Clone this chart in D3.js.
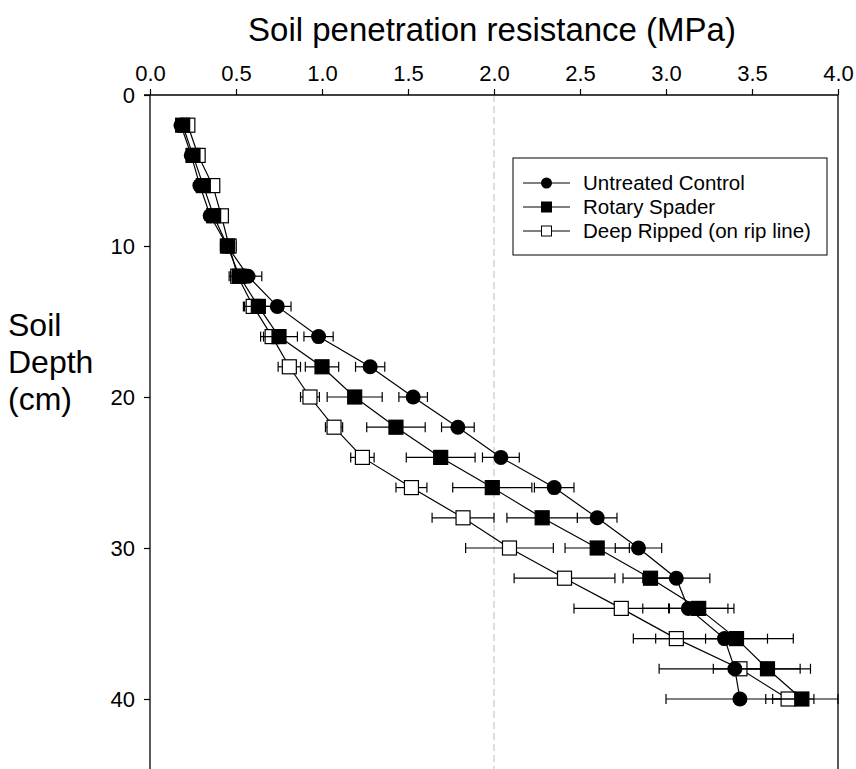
<!DOCTYPE html>
<html>
<head>
<meta charset="utf-8">
<script src="https://cdn.jsdelivr.net/npm/d3@7"></script>
<style>
  body { margin: 0; background: #fff; }
  text { font-family: "Liberation Sans", Arial, sans-serif; fill: #000; }
</style>
</head>
<body>
<div id="chart"></div>
<script>
// depth of each reading (cm)
var depths = [2, 4, 6, 8, 10, 12, 14, 16, 18, 20, 22, 24, 26, 28, 30, 32, 34, 36, 38, 40];

// soil penetration resistance (MPa) and error (+/-)
var controlVals = [0.18, 0.24, 0.29, 0.35, 0.45, 0.57, 0.74, 0.98, 1.28, 1.53, 1.79, 2.04, 2.35, 2.60, 2.84, 3.06, 3.13, 3.34, 3.40, 3.43];
var controlErr  = [0.02, 0.02, 0.02, 0.03, 0.04, 0.08, 0.08, 0.085, 0.085, 0.083, 0.095, 0.107, 0.115, 0.115, 0.135, 0.195, 0.265, 0.40, 0.44, 0.43];
var spaderVals  = [0.19, 0.25, 0.31, 0.37, 0.45, 0.52, 0.63, 0.75, 1.00, 1.19, 1.43, 1.69, 1.99, 2.28, 2.60, 2.91, 3.19, 3.41, 3.59, 3.79];
var spaderErr   = [0.02, 0.02, 0.02, 0.03, 0.04, 0.05, 0.087, 0.107, 0.097, 0.16, 0.17, 0.20, 0.23, 0.205, 0.187, 0.16, 0.17, 0.18, 0.19, 0.21];
var rippedVals  = [0.22, 0.28, 0.365, 0.415, 0.46, 0.51, 0.60, 0.71, 0.81, 0.93, 1.07, 1.235, 1.52, 1.82, 2.09, 2.41, 2.74, 3.06, 3.43, 3.71];
var rippedErr   = [0.02, 0.02, 0.02, 0.03, 0.04, 0.05, 0.05, 0.05, 0.065, 0.055, 0.05, 0.068, 0.09, 0.18, 0.255, 0.293, 0.275, 0.25, 0.155, 0.09];

var seriesNames = ["Untreated Control", "Rotary Spader", "Deep Ripped (on rip line)"];
var xTicks = [0, 0.5, 1, 1.5, 2, 2.5, 3, 3.5, 4];
var yTicks = [0, 10, 20, 30, 40];

var W = 856, H = 769;
var x0 = 150, x1 = 838, y0 = 95;

var svg = d3.select("#chart").append("svg")
    .attr("width", W)
    .attr("height", H);

var x = d3.scaleLinear().domain([0, 4]).range([x0, x1]);
var y = d3.scaleLinear().domain([0, 40]).range([y0, 699]);

//reference line at 2 MPa
svg.append("line")
    .attr("x1", x(2)).attr("x2", x(2))
    .attr("y1", y0).attr("y2", H)
    .attr("stroke", "#c8c8c8")
    .attr("stroke-width", 1.2)
    .attr("stroke-dasharray", "7,4");

//axes
var xAxis = svg.append("g")
    .attr("transform", "translate(0," + y0 + ")")
    .call(d3.axisTop(x).tickValues(xTicks).tickSize(6).tickPadding(8).tickFormat(d3.format(".1f")));
var yAxis = svg.append("g")
    .attr("transform", "translate(" + x0 + ",0)")
    .call(d3.axisLeft(y).tickValues(yTicks).tickSize(6).tickPadding(9));

[xAxis, yAxis].forEach(function(g) {
    g.select(".domain").remove();
    g.selectAll(".tick line").attr("stroke", "#000").attr("stroke-width", 1.2);
    g.selectAll(".tick text").attr("font-size", 22).attr("font-family", "Liberation Sans, Arial, sans-serif");
});

//frame lines (top, left, right)
svg.append("line").attr("x1", x0 - 6).attr("x2", x1).attr("y1", y0).attr("y2", y0)
    .attr("stroke", "#000").attr("stroke-width", 1.3);
svg.append("line").attr("x1", x0).attr("x2", x0).attr("y1", y0).attr("y2", H)
    .attr("stroke", "#000").attr("stroke-width", 1.3);
svg.append("line").attr("x1", x1).attr("x2", x1).attr("y1", y0).attr("y2", H)
    .attr("stroke", "#000").attr("stroke-width", 1.3);

//axis titles
svg.append("text")
    .attr("x", 492).attr("y", 41)
    .attr("text-anchor", "middle")
    .attr("font-size", 33)
    .text("Soil penetration resistance (MPa)");

var ylab = svg.append("text").attr("font-size", 32);
["Soil", "Depth", "(cm)"].forEach(function(s, i) {
    ylab.append("tspan").attr("x", 8).attr("y", 336 + i * 37).text(s);
});

function makeSeries(vals, errs) {
    return depths.map(function(d, i) { return {depth: d, v: vals[i], e: errs[i]}; });
}

//draw order: ripped at the back, control on top
var series = [
    {name: seriesNames[2], data: makeSeries(rippedVals, rippedErr), shape: "square", fill: "#fff"},
    {name: seriesNames[1], data: makeSeries(spaderVals, spaderErr), shape: "square", fill: "#000"},
    {name: seriesNames[0], data: makeSeries(controlVals, controlErr), shape: "circle", fill: "#000"}
];

var line = d3.line()
    .x(function(d) { return x(d.v); })
    .y(function(d) { return y(d.depth); });

var cap = 5;

series.forEach(function(s) {
    var g = svg.append("g");
    //error bars
    var eb = g.selectAll("g.err").data(s.data).enter().append("g").attr("class", "err")
        .attr("stroke", "#000").attr("stroke-width", 1.2);
    eb.append("line")
        .attr("x1", function(d) { return x(d.v - d.e); })
        .attr("x2", function(d) { return x(d.v + d.e); })
        .attr("y1", function(d) { return y(d.depth); })
        .attr("y2", function(d) { return y(d.depth); });
    eb.append("line")
        .attr("x1", function(d) { return x(d.v - d.e); })
        .attr("x2", function(d) { return x(d.v - d.e); })
        .attr("y1", function(d) { return y(d.depth) - cap; })
        .attr("y2", function(d) { return y(d.depth) + cap; });
    eb.append("line")
        .attr("x1", function(d) { return x(d.v + d.e); })
        .attr("x2", function(d) { return x(d.v + d.e); })
        .attr("y1", function(d) { return y(d.depth) - cap; })
        .attr("y2", function(d) { return y(d.depth) + cap; });
    //connecting line
    g.append("path").datum(s.data)
        .attr("d", line)
        .attr("fill", "none")
        .attr("stroke", "#000")
        .attr("stroke-width", 1.2);
    //markers
    if (s.shape == "circle") {
        g.selectAll("circle").data(s.data).enter().append("circle")
            .attr("cx", function(d) { return x(d.v); })
            .attr("cy", function(d) { return y(d.depth); })
            .attr("r", 7.5)
            .attr("fill", s.fill);
    } else {
        g.selectAll("rect").data(s.data).enter().append("rect")
            .attr("x", function(d) { return x(d.v) - 7; })
            .attr("y", function(d) { return y(d.depth) - 7; })
            .attr("width", 14).attr("height", 14)
            .attr("fill", s.fill)
            .attr("stroke", "#000").attr("stroke-width", 1.2);
    }
});

//legend
var leg = svg.append("g").attr("transform", "translate(513,158)");
leg.append("rect").attr("width", 314).attr("height", 97)
    .attr("fill", "#fff").attr("stroke", "#000").attr("stroke-width", 1);
var legItems = [
    {name: seriesNames[0], shape: "circle", fill: "#000", size: 5.5},
    {name: seriesNames[1], shape: "square", fill: "#000", size: 10},
    {name: seriesNames[2], shape: "square", fill: "#fff", size: 10}
];
legItems.forEach(function(it, i) {
    var cy = 25 + i * 24;
    leg.append("line").attr("x1", 10).attr("x2", 57).attr("y1", cy).attr("y2", cy)
        .attr("stroke", "#000").attr("stroke-width", 1.2);
    if (it.shape == "circle") {
        leg.append("circle").attr("cx", 33.5).attr("cy", cy).attr("r", it.size).attr("fill", it.fill);
    } else {
        leg.append("rect").attr("x", 33.5 - it.size / 2).attr("y", cy - it.size / 2)
            .attr("width", it.size).attr("height", it.size)
            .attr("fill", it.fill).attr("stroke", "#000").attr("stroke-width", 1);
    }
    leg.append("text").attr("x", 70).attr("y", cy + 7)
        .attr("font-size", 20.5)
        .text(it.name);
});
</script>
</body>
</html>
